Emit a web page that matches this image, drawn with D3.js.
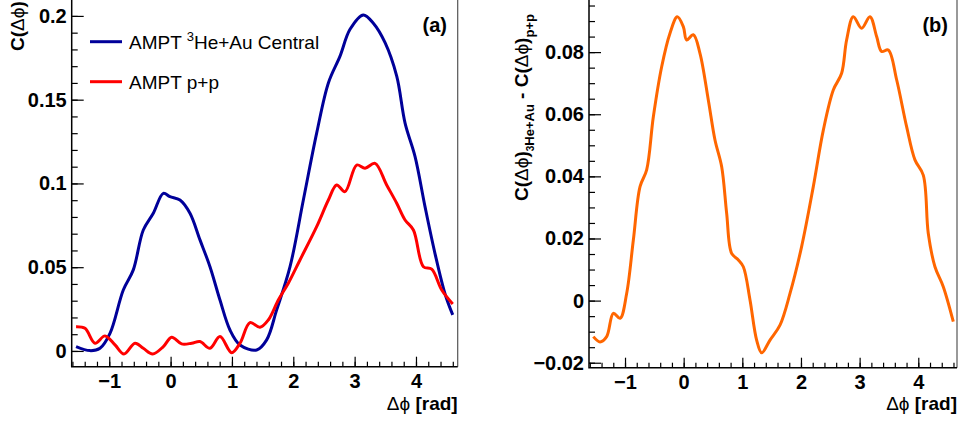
<!DOCTYPE html>
<html>
<head>
<meta charset="utf-8">
<script src="https://cdn.jsdelivr.net/npm/d3@7"></script>
<style>
  body { margin: 0; background: #fff; }
  svg { display: block; font-family: "Liberation Sans", Arial, Helvetica, sans-serif; }
  .tick text { font-weight: bold; font-size: 20px; fill: #000; }
</style>
</head>
<body>
<div id="chart"></div>
<script>
// values (delta phi in rad)
const heAuX = [-1.541, -1.314, -1.151, -0.988, -0.771, -0.608, -0.445, -0.282, -0.118, -0.010, 0.153, 0.316, 0.479, 0.642, 0.805, 0.968, 1.131, 1.403, 1.566, 1.729, 1.947, 2.164, 2.381, 2.572, 2.762, 2.925, 3.142, 3.305, 3.496, 3.686, 3.822, 3.985, 4.148, 4.311, 4.474, 4.599];
const heAuY = [0.0026, 0.0002, 0.0016, 0.0105, 0.0364, 0.0484, 0.0722, 0.0822, 0.0941, 0.0921, 0.0901, 0.0822, 0.0663, 0.0503, 0.0304, 0.0125, 0.0036, 0.0006, 0.0066, 0.0245, 0.0503, 0.0901, 0.130, 0.160, 0.176, 0.192, 0.2006, 0.1956, 0.184, 0.164, 0.136, 0.116, 0.086, 0.058, 0.034, 0.0215];

const ppX = [-1.541, -1.395, -1.232, -1.069, -0.906, -0.760, -0.580, -0.445, -0.292, -0.118, 0.017, 0.180, 0.344, 0.479, 0.642, 0.805, 0.995, 1.131, 1.294, 1.457, 1.593, 1.756, 1.919, 2.109, 2.381, 2.572, 2.707, 2.843, 3.033, 3.169, 3.332, 3.522, 3.686, 3.822, 3.958, 4.121, 4.256, 4.420, 4.599];
const ppY = [0.0145, 0.0135, 0.0046, 0.0090, 0.0036, -0.0018, 0.0046, 0.0016, -0.0018, 0.0026, 0.0082, 0.0042, 0.0046, 0.0056, 0.0016, 0.0086, -0.0010, 0.0046, 0.0169, 0.0141, 0.0185, 0.0304, 0.0404, 0.0543, 0.0742, 0.0901, 0.0991, 0.0951, 0.1110, 0.1091, 0.1120, 0.0991, 0.0882, 0.0782, 0.0722, 0.0503, 0.0488, 0.0364, 0.0281];

const diffX = [-1.540, -1.426, -1.313, -1.199, -1.085, -0.972, -0.858, -0.744, -0.631, -0.517, -0.375, -0.233, -0.108, -0.006, 0.051, 0.165, 0.278, 0.420, 0.534, 0.648, 0.733, 0.818, 0.932, 1.017, 1.131, 1.244, 1.330, 1.472, 1.642, 1.813, 2.011, 2.210, 2.381, 2.551, 2.693, 2.778, 2.892, 3.034, 3.176, 3.290, 3.375, 3.489, 3.631, 3.801, 3.943, 4.085, 4.170, 4.284, 4.426, 4.597];
const diffY = [-0.0116, -0.0133, -0.0116, -0.0041, -0.0057, 0.0023, 0.0195, 0.0367, 0.0421, 0.0592, 0.0753, 0.0861, 0.0914, 0.0882, 0.0839, 0.0856, 0.0796, 0.0646, 0.0517, 0.0431, 0.0281, 0.0152, 0.0131, 0.0109, 0.0002, -0.0127, -0.0168, -0.0127, -0.0079, 0.0023, 0.0174, 0.0367, 0.0549, 0.0678, 0.0732, 0.0839, 0.0914, 0.0877, 0.0914, 0.0850, 0.0802, 0.0807, 0.0711, 0.0560, 0.0453, 0.0404, 0.0217, 0.0109, 0.0045, -0.0068];

const xMajor = [-1, 0, 1, 2, 3, 4];
const xMinor = d3.range(-16, 47, 2).map(d => d / 10);
const yMajorA = [0, 0.05, 0.1, 0.15, 0.2];
const yMinorA = d3.range(0, 21).map(d => d / 100);
const yMajorB = [-0.02, 0, 0.02, 0.04, 0.06, 0.08];
const yMinorB = d3.range(-4, 20).map(d => d * 0.005);

const legendLabels = ["AMPT ", "3", "He+Au Central", "AMPT p+p"];

const dphi = "\u0394\u03d5";

const svg = d3.select("#chart").append("svg")
  .attr("width", 962)
  .attr("height", 423);

function panel(opt) {
  const x = d3.scaleLinear().domain(opt.xDomain).range([opt.left, opt.right]);
  const y = d3.scaleLinear().domain(opt.yDomain).range([opt.bottom, opt.top]);
  const g = svg.append("g");

  const clipId = "clip" + opt.name;
  g.append("clipPath").attr("id", clipId)
    .append("rect")
    .attr("x", opt.left).attr("y", opt.top)
    .attr("width", opt.right - opt.left).attr("height", opt.bottom - opt.top);

  // minor + major ticks
  g.append("g")
    .attr("transform", `translate(0,${opt.bottom})`)
    .call(d3.axisBottom(x).tickValues(xMinor).tickSize(-5).tickFormat(""))
    .call(s => s.select(".domain").remove());
  g.append("g")
    .attr("transform", `translate(0,${opt.bottom})`)
    .call(d3.axisBottom(x).tickValues(xMajor).tickSize(-10).tickPadding(7)
      .tickFormat(d => d < 0 ? "\u2212" + Math.abs(d) : d))
    .call(s => s.select(".domain").remove());
  g.append("g")
    .attr("transform", `translate(${opt.left},0)`)
    .call(d3.axisLeft(y).tickValues(opt.yMinor).tickSize(-6).tickFormat(""))
    .call(s => s.select(".domain").remove());
  g.append("g")
    .attr("transform", `translate(${opt.left},0)`)
    .call(d3.axisLeft(y).tickValues(opt.yMajor).tickSize(-12).tickPadding(5)
      .tickFormat(d => d === 0 ? "0" : d3.format("~g")(d)))
    .call(s => s.select(".domain").remove());

  g.selectAll(".tick line").attr("stroke", "#000").attr("stroke-width", 1.2);

  // frame
  g.append("line").attr("x1", opt.right).attr("x2", opt.right)
    .attr("y1", opt.top).attr("y2", opt.bottom)
    .attr("stroke", "#555").attr("stroke-width", 1.2);
  g.append("path")
    .attr("d", `M${opt.left},${opt.top}V${opt.bottom}H${opt.right}`)
    .attr("fill", "none").attr("stroke", "#000").attr("stroke-width", 1.5);

  const line = d3.line()
    .x(d => x(d[0]))
    .y(d => y(d[1]))
    .curve(d3.curveCatmullRom.alpha(0.5));

  opt.series.forEach(s => {
    g.append("path")
      .datum(d3.zip(s.xs, s.ys))
      .attr("clip-path", `url(#${clipId})`)
      .attr("fill", "none")
      .attr("stroke", s.color)
      .attr("stroke-width", 3)
      .attr("stroke-linejoin", "round")
      .attr("d", line);
  });

  // x title
  const xt = g.append("text")
    .attr("x", opt.right)
    .attr("y", 410)
    .attr("text-anchor", "end")
    .attr("font-size", 19);
  xt.append("tspan").text(dphi);
  xt.append("tspan").attr("font-weight", "bold").text(" [rad]");

  // panel label
  g.append("text")
    .attr("x", opt.labelX)
    .attr("y", 32)
    .attr("text-anchor", "end")
    .attr("font-size", 20)
    .attr("font-weight", "bold")
    .text(opt.label);

  return { g, x, y };
}

const a = panel({
  name: "a", left: 71.7, right: 457.7, top: -1, bottom: 366.7,
  xDomain: [-1.612, 4.680], yDomain: [-0.0094, 0.2101],
  yMajor: yMajorA, yMinor: yMinorA,
  label: "(a)", labelX: 447,
  series: [
    { xs: heAuX, ys: heAuY, color: "#000099" },
    { xs: ppX, ys: ppY, color: "#ff0000" }
  ]
});

const b = panel({
  name: "b", left: 589, right: 957, top: -1, bottom: 367.7,
  xDomain: [-1.614, 4.66], yDomain: [-0.0216, 0.0971],
  yMajor: yMajorB, yMinor: yMinorB,
  label: "(b)", labelX: 948,
  series: [
    { xs: diffX, ys: diffY, color: "#ff6600" }
  ]
});

// y title, panel a
const ya = svg.append("text")
  .attr("transform", "translate(24,51) rotate(-90)")
  .attr("font-size", 19);
ya.append("tspan").attr("font-weight", "bold").text("C(");
ya.append("tspan").text(dphi);
ya.append("tspan").attr("font-weight", "bold").text(")");

// y title, panel b
const yb = svg.append("text")
  .attr("transform", "translate(528,201) rotate(-90)")
  .attr("font-size", 19)
  .attr("font-weight", "bold");
yb.append("tspan").text("C(");
yb.append("tspan").attr("font-weight", "normal").text(dphi);
yb.append("tspan").text(")");
yb.append("tspan").attr("dy", 6).attr("font-size", 10).text("3");
yb.append("tspan").attr("font-size", 13).text("He+Au");
yb.append("tspan").attr("dy", -6).text(" - C(");
yb.append("tspan").attr("font-weight", "normal").text(dphi);
yb.append("tspan").text(")");
yb.append("tspan").attr("dy", 6).attr("font-size", 13).text("p+p");

// legend
const legendItems = [
  { color: "#000099", y: 41.7 },
  { color: "#ff0000", y: 81.7 }
];
svg.selectAll(".legline")
  .data(legendItems)
  .enter()
  .append("line")
  .attr("x1", 90).attr("x2", 122)
  .attr("y1", d => d.y).attr("y2", d => d.y)
  .attr("stroke", d => d.color)
  .attr("stroke-width", 3);

const l1 = svg.append("text")
  .attr("x", 129).attr("y", 48.5)
  .attr("font-size", 19);
l1.append("tspan").text(legendLabels[0]);
l1.append("tspan").attr("dy", -8).attr("font-size", 13).text(legendLabels[1]);
l1.append("tspan").attr("dy", 8).text(legendLabels[2]);

svg.append("text")
  .attr("x", 129).attr("y", 89)
  .attr("font-size", 19)
  .text(legendLabels[3]);
</script>
</body>
</html>
